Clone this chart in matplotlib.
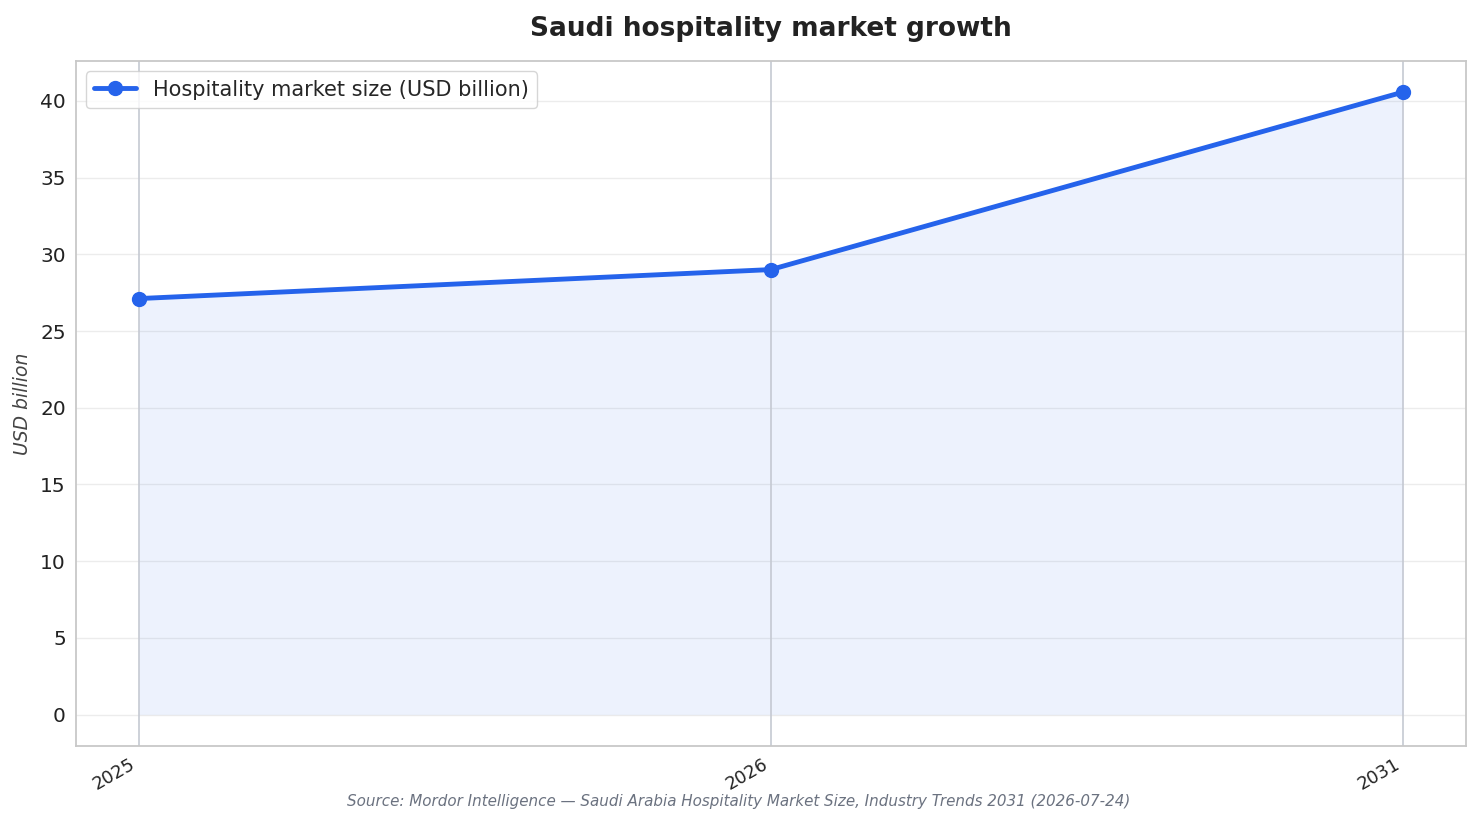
import matplotlib
matplotlib.use("Agg")
import matplotlib.pyplot as plt
import seaborn as sns
import numpy as np

# chart data
years = ["2025", "2026", "2031"]
market_size = [27.12, 29.01, 40.58]
series_label = "Hospitality market size (USD billion)"
source_text = "Source: Mordor Intelligence \u2014 Saudi Arabia Hospitality Market Size, Industry Trends 2031 (2026-07-24)"

sns.set_style("whitegrid")
plt.rcParams['font.family'] = ['DejaVu Sans']

fig, ax = plt.subplots(figsize=(14.81, 8.24), dpi=100)
x = np.arange(len(years))

ax.fill_between(x, market_size, 0, color="#2563eb", alpha=0.08, linewidth=0)
ax.plot(x, market_size, color="#2563eb", linewidth=3.5, marker="o", markersize=10,
        label=series_label, zorder=3)
for xi in x:
    ax.axvline(xi, color="#c5c9d2", linewidth=1.2, zorder=1)

ax.set_xticks(x)
ax.set_xticklabels(years, rotation=30, ha="right", fontsize=13, color="#222222")
ax.tick_params(axis="y", labelsize=14.5, colors="#222222")
ax.grid(axis="x", visible=False)
ax.grid(axis="y", color="#ececec", linewidth=1)
for s in ax.spines.values():
    s.set_color("#c8c8c8")
    s.set_linewidth(1.3)

ax.set_ylabel("USD billion", fontsize=13.5, style="italic", color="#444444", labelpad=6)
ax.set_title("Saudi hospitality market growth", fontsize=19, fontweight="bold",
             color="#222222", pad=18)
ax.legend(loc="upper left", fontsize=15, frameon=True, edgecolor="#cccccc")

fig.text(0.499, 0.022, source_text, ha="center", fontsize=10.9, style="italic", color="#6b7280")
fig.subplots_adjust(left=0.051, right=0.99, top=0.926, bottom=0.095)
fig.savefig("out.png", dpi=100)
